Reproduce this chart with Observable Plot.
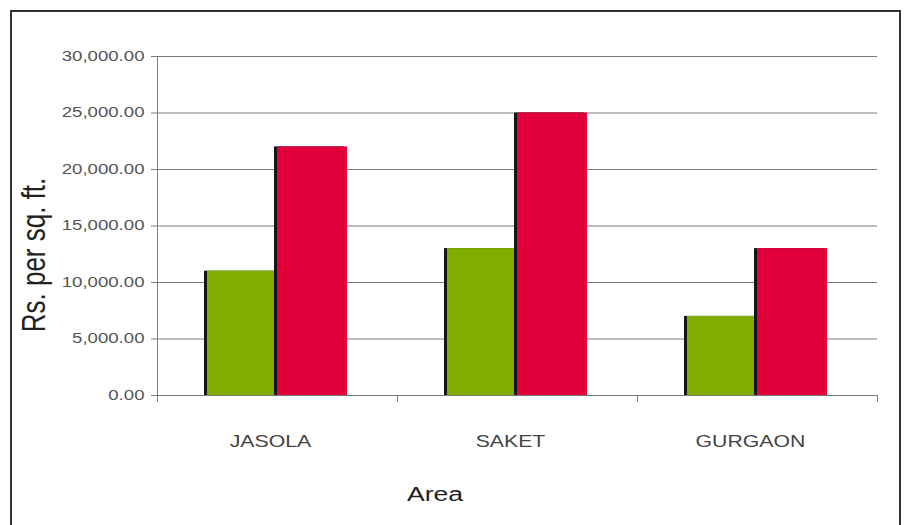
<!DOCTYPE html>
<html>
<head>
<meta charset="utf-8">
<script src="https://cdn.jsdelivr.net/npm/d3@7"></script>
<script src="https://cdn.jsdelivr.net/npm/@observablehq/plot@0.6"></script>
<style>
  html, body { margin: 0; padding: 0; background: #fff; overflow: hidden; }
  #wrap { position: relative; width: 908px; height: 525px; font-family: "Liberation Sans", Arial, sans-serif; }
  #border { position: absolute; left: 10px; top: 10px; width: 891px; height: 540px; border: 2px solid #333; box-sizing: border-box; pointer-events: none; }
  .lbl { position: absolute; color: #222; white-space: nowrap; line-height: 1; }
  #xlabel { left: 435px; top: 494px; font-size: 20px; transform: translate(-50%, -50%) scaleX(1.33); }
  #ylabel { left: 34px; top: 255px; font-size: 26px; transform: translate(-50%, -50%) scaleX(1.25) rotate(-90deg); }
  #chart { position: absolute; left: 0; top: 0; }
</style>
</head>
<body>
<div id="wrap">
  <div id="chart"></div>
  <div id="border"></div>
  <div class="lbl" id="xlabel">Area</div>
  <div class="lbl" id="ylabel">Rs. per sq. ft.</div>
</div>
<script>
// ---- data ----
const areas = ["JASOLA", "SAKET", "GURGAON"];
const seriesNames = ["Series 1", "Series 2"];
const series1 = [11000, 13000, 7000];   // green bars
const series2 = [22000, 25000, 13000];  // red bars
const yTicks = [0, 5000, 10000, 15000, 20000, 25000, 30000];

const rows1 = areas.map((a, i) => ({area: a, series: seriesNames[0], value: series1[i]}));
const rows2 = areas.map((a, i) => ({area: a, series: seriesNames[1], value: series2[i]}));

const green = "#80ae00";
const red = "#e2003b";
const shadow = "#161616";
const gray = "#7c7c7c";

const chart = Plot.plot({
  width: 908,
  height: 525,
  marginLeft: 156,
  marginRight: 31,
  marginTop: 56,
  marginBottom: 130,
  style: {fontFamily: "Liberation Sans, Arial, sans-serif", background: "transparent"},
  fx: {domain: areas, padding: 0, axis: null, label: null},
  x: {domain: seriesNames, paddingInner: 0, paddingOuter: 0.714, axis: null},
  y: {domain: [0, 30000], axis: null},
  marks: [
    Plot.gridY(yTicks, {stroke: gray, strokeOpacity: 1, strokeWidth: 1}),
    Plot.frame({anchor: "left", facetAnchor: "left", stroke: gray, strokeOpacity: 1}),
    Plot.frame({anchor: "left", stroke: gray, strokeOpacity: 1, insetTop: 339, insetBottom: -6}),
    Plot.frame({anchor: "right", facetAnchor: "right", stroke: gray, strokeOpacity: 1, insetTop: 339, insetBottom: -6}),
    Plot.barY(rows1, {fx: "area", x: "series", y: "value", fill: shadow, dx: -3}),
    Plot.barY(rows1, {fx: "area", x: "series", y: "value", fill: green}),
    Plot.barY(rows2, {fx: "area", x: "series", y: "value", fill: shadow, dx: -3}),
    Plot.barY(rows2, {fx: "area", x: "series", y: "value", fill: red}),
    Plot.ruleY([0], {stroke: gray, strokeWidth: 1}),
    Plot.axisY(yTicks, {
      anchor: "left",
      tickFormat: d3.format(",.2f"),
      tickSize: 6,
      tickPadding: 7,
      fontSize: 14,
      stroke: gray,
      color: "#555",
      label: null
    }),
    Plot.axisFx({
      anchor: "bottom",
      tickSize: 0,
      tickPadding: 40,
      fontSize: 16,
      color: "#444",
      label: null,
      dx: -7
    })
  ]
});

// stretch tick labels horizontally to match the reference's wide lettering
chart.querySelectorAll("text").forEach(t => {
  const tr = t.getAttribute("transform");
  if (tr && tr.startsWith("translate")) t.setAttribute("transform", tr + " scale(1.33,1)");
});

document.getElementById("chart").appendChild(chart);
</script>
</body>
</html>
